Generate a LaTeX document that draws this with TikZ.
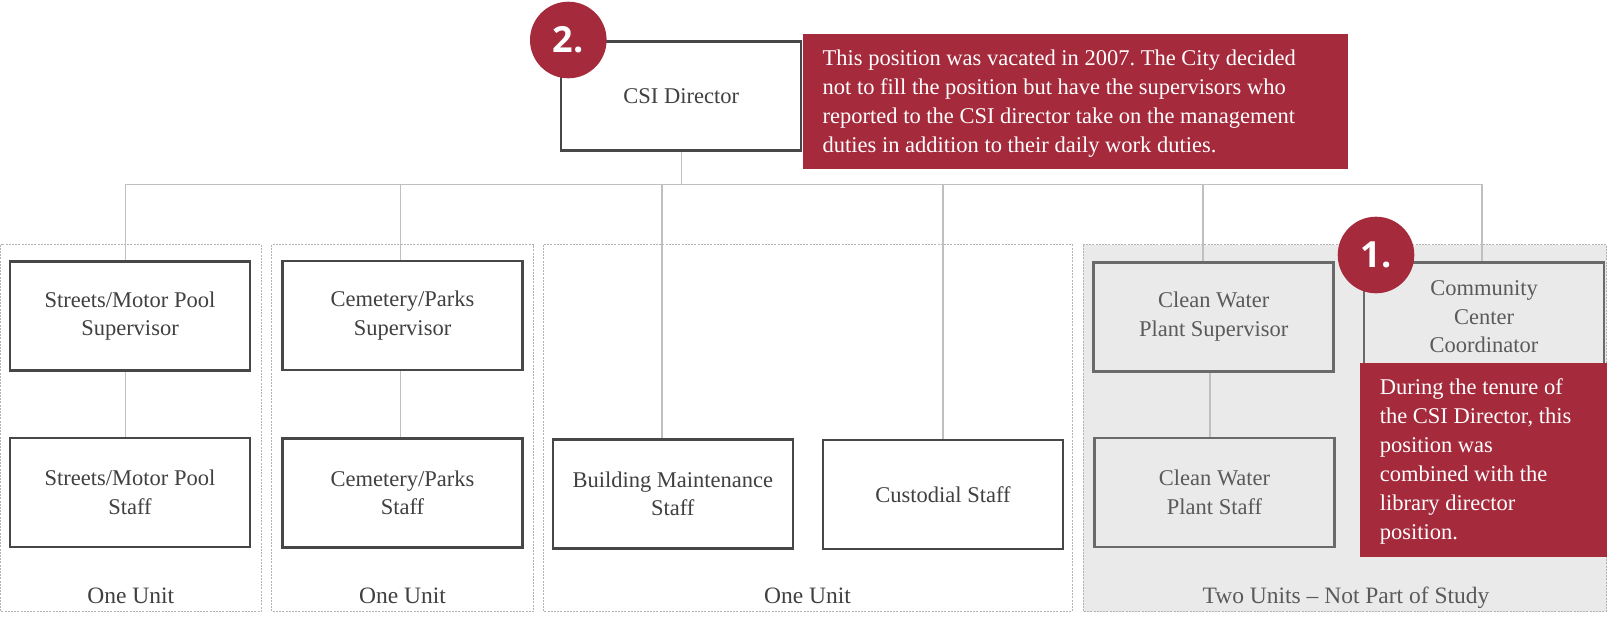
\documentclass[tikz,border=0pt]{standalone}
\usepackage{fontspec}
\setmainfont{Liberation Serif}
\newfontfamily\badgefont{Open Sans}
\usetikzlibrary{backgrounds}
\frenchspacing

\definecolor{notered}{HTML}{A52A3C}
\definecolor{wiregray}{HTML}{BFBFBF}
\definecolor{framegray}{HTML}{B4B4B4}
\definecolor{boxedge}{HTML}{474747}
\definecolor{boxink}{HTML}{404040}
\definecolor{shade}{HTML}{EAEAEA}
\definecolor{shadeedge}{HTML}{6A6A6A}
\definecolor{shadeink}{HTML}{5A5A5A}

\begin{document}
\begin{tikzpicture}[x=1pt,y=-1pt,
  role/.style={draw=boxedge, line width=2.5pt, fill=white, text=boxink,
    minimum width=240pt, minimum height=109pt, inner sep=0pt, align=center,
    font=\fontsize{22.5}{28.5}\selectfont},
  outrole/.style={role, draw=shadeedge, fill=shade, text=shadeink},
  unit/.style={draw=framegray, line width=0.8pt, dash pattern=on 2pt off 1.2pt},
  wire/.style={draw=wiregray, line width=1.3pt},
  note/.style={fill=notered, inner sep=0pt},
  notetext/.style={text=white, align=left, inner sep=0pt, anchor=west,
    font=\fontsize{22.5}{29}\selectfont},
  badge/.style={circle, fill=notered, minimum size=76.6pt, inner sep=0pt,
    text=white, font=\badgefont\bfseries\fontsize{36}{36}\selectfont},
  unitlabel/.style={text=boxink, font=\fontsize{23.5}{28}\selectfont,
    anchor=base, inner sep=0pt}]

\useasboundingbox (0,0) rectangle (1607,623);

% positions
\node[role] (csi) at (681.2,96.2) {CSI Director};

\node[role] (streets) at (130,316.2) {Streets/Motor Pool\\Supervisor};
\node[role] (streetsstaff) at (130,492.5) {Streets/Motor Pool\\Staff};

\node[role] (cem) at (402.5,315.5) {Cemetery/Parks\\Supervisor};
\node[role] (cemstaff) at (402.5,493) {Cemetery/Parks\\Staff};

\node[role] (build) at (672.8,493.8) {Building Maintenance\\Staff};
\node[role] (cust) at (943,494.7) {Custodial Staff};

\node[outrole] (cwsup) at (1213.7,316.8) {Clean Water\\Plant Supervisor};
\node[outrole] (cwstaff) at (1214.5,492.5) {Clean Water\\Plant Staff};

\node[outrole] (comm) at (1484,316.8) {Community\\Center\\Coordinator};

\begin{scope}[on background layer]
  % unit frames
  \draw[unit] (0.5,244.5) rectangle (261,611.5);
  \draw[unit] (271.7,244.5) rectangle (533.3,611.5);
  \draw[unit] (543.3,244.5) rectangle (1072,611.5);
  \draw[unit, fill=shade] (1083,244.5) rectangle (1606.5,611.5);

  % reporting lines
  \coordinate (busL) at (125.7,184.3);
  \coordinate (busR) at (1482,184.3);
  \draw[wire] (csi.south) -- (csi.south |- busL);
  \draw[wire] (busL) -- (busR);
  \draw[wire] ([xshift=-4.3pt]streets.north |- busL) -- ([xshift=-4.3pt]streets.north);
  \draw[wire] ([xshift=-2.2pt]cem.north |- busL) -- ([xshift=-2.2pt]cem.north);
  \draw[wire] ([xshift=-10.8pt]build.north |- busL) -- ([xshift=-10.8pt]build.north);
  \draw[wire] (cust.north |- busL) -- (cust.north);
  \draw[wire] ([xshift=-10.7pt]cwsup.north |- busL) -- ([xshift=-10.7pt]cwsup.north);
  \draw[wire] ([xshift=-2pt]comm.north |- busL) -- ([xshift=-2pt]comm.north);
  \draw[wire] ([xshift=-4.3pt]streets.south) -- ([xshift=-4.3pt]streetsstaff.north);
  \draw[wire] ([xshift=-2.2pt]cem.south) -- ([xshift=-2.2pt]cemstaff.north);
  \draw[wire] ([xshift=-3.7pt]cwsup.south) -- ([xshift=-4.5pt]cwstaff.north);
\end{scope}

% unit captions
\node[unitlabel] (u1) at (130.7,603) {One Unit};
\node[unitlabel] (u2) at (402.5,603) {One Unit};
\node[unitlabel] (u3) at (807.6,603) {One Unit};
\node[unitlabel, text=shadeink] (u4) at (1346,603) {Two Units -- Not Part of Study};

% notes
\node[note, minimum width=545pt, minimum height=135pt] (note2) at (1075.2,101.5) {};
\node[notetext] (note2text) at ([xshift=20pt, yshift=-2pt]note2.west)
  {This position was vacated in 2007. The City decided\\
   not to fill the position but have the supervisors who\\
   reported to the CSI director take on the management\\
   duties in addition to their daily work duties.};

\node[note, minimum width=246.7pt, minimum height=193.4pt] (note1) at (1483.7,460) {};
\node[notetext] (note1text) at ([xshift=19.4pt, yshift=-1pt]note1.west)
  {During the tenure of\\
   the CSI Director, this\\
   position was\\
   combined with the\\
   library director\\
   position.};

% numbered badges
\node[badge] (b2) at (568.3,40) {2.};
\node[badge] (b1) at (1376,255) {1.};
\end{tikzpicture}
\end{document}
